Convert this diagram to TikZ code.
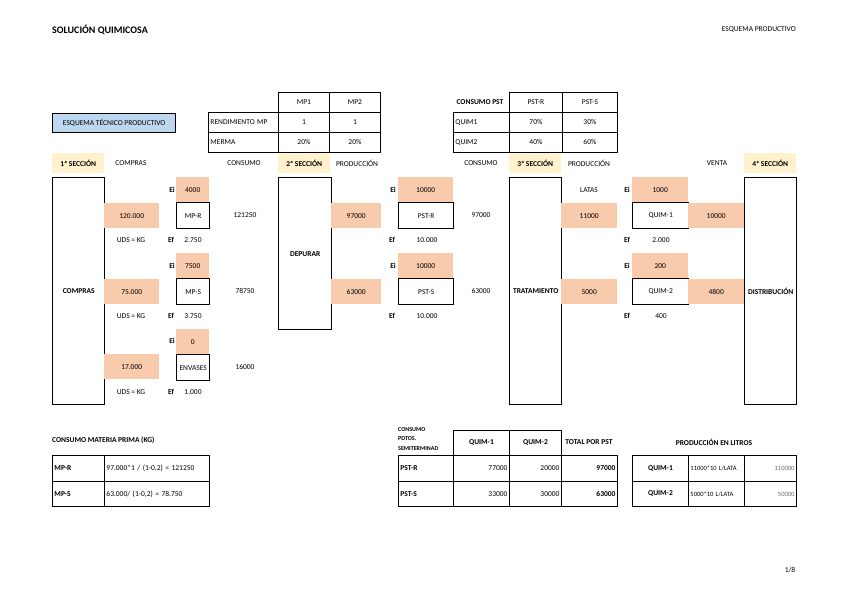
\documentclass[tikz,border=0pt]{standalone}
\usepackage{fontspec}
\setmainfont{Carlito}
\usetikzlibrary{positioning,backgrounds}
\definecolor{salmon}{HTML}{F8CBAD}
\definecolor{cream}{HTML}{FFF2CC}
\definecolor{skyblue}{HTML}{BDD7EE}
\newcommand{\qsmall}{\fontsize{7.5}{9}\selectfont}
\newcommand{\qbold}{\fontsize{7.5}{9}\selectfont\bfseries}
\newcommand{\qtiny}{\fontsize{6.5}{7.8}\selectfont}
\tikzset{
	sz/.style 2 args={minimum width=#1pt, minimum height=#2pt},
	tcell/.style={
		draw, rectangle, line width=0.9pt, anchor=north west,
		inner sep=0pt, font=\qsmall
	},
	lcell/.style={tcell, inner xsep=2pt, text width=#1pt, align=left},
	rcell/.style={tcell, inner xsep=2pt, text width=#1pt, align=right},
	ocell/.style={
		rectangle, fill=salmon, anchor=north west,
		inner sep=0pt, font=\qsmall
	},
	seccion/.style={
		rectangle, fill=cream, anchor=north west, inner sep=0pt,
		minimum width=52pt, minimum height=20pt, font=\qbold
	},
	etapa/.style={
		draw, rectangle, line width=1.4pt, anchor=north west,
		inner sep=0pt, minimum width=52pt, font=\qbold
	},
	stock/.style={
		draw, rectangle, line width=1.4pt, anchor=north west,
		inner sep=0pt, minimum height=26pt, font=\qsmall
	},
	lbl/.style={inner sep=0pt, font=\qsmall},
	blbl/.style={inner sep=0pt, font=\qbold},
}

\begin{document}
\begin{tikzpicture}[x=1pt, y=-1pt,
		rowline/.style={black!60, line width=0.8pt}]
	\useasboundingbox (0,0) rectangle (848,599);
	\fill[white] (0,0) rectangle (848,599);

	% cabecera
	\node[anchor=west, inner sep=0pt, font=\fontsize{10}{12}\selectfont\bfseries] (titulo) at (52,30) {SOLUCIÓN QUIMICOSA};
	\node[lbl, anchor=east] (hoja) at (796,30) {ESQUEMA PRODUCTIVO};
	\node[lbl] (pagina) at (790,570) {1/8};
	\node[tcell, sz={123}{19}, fill=skyblue, line width=1.4pt] (etp) at (52,113) {ESQUEMA TÉCNICO PRODUCTIVO};

	% rendimiento y merma
	\node[tcell, sz={51}{20}] (mp1) at (278,92) {MP1};
	\node[tcell, sz={51}{20}] (mp2) at (329,92) {MP2};
	\node[lcell=66, sz={70}{20}] (rend) at (208,112) {RENDIMIENTO MP};
	\node[tcell, sz={51}{20}] (rend1) at (278,112) {1};
	\node[tcell, sz={51}{20}] (rend2) at (329,112) {1};
	\node[lcell=66, sz={70}{20}] (merma) at (208,132) {MERMA};
	\node[tcell, sz={51}{20}] (merma1) at (278,132) {20\%};
	\node[tcell, sz={51}{20}] (merma2) at (329,132) {20\%};

	% consumo pst
	\node[blbl] (cpst) at (480,102) {CONSUMO PST};
	\node[tcell, sz={53}{20}] (hpstr) at (509,92) {PST-R};
	\node[tcell, sz={55}{20}] (hpsts) at (562,92) {PST-S};
	\node[lcell=52, sz={56}{20}] (q1) at (453,112) {QUIM1};
	\node[tcell, sz={53}{20}] (q1r) at (509,112) {70\%};
	\node[tcell, sz={55}{20}] (q1s) at (562,112) {30\%};
	\node[lcell=52, sz={56}{20}] (q2) at (453,132) {QUIM2};
	\node[tcell, sz={53}{20}] (q2r) at (509,132) {40\%};
	\node[tcell, sz={55}{20}] (q2s) at (562,132) {60\%};

	% secciones
	\node[seccion] (s1) at (52,153) {1ª SECCIÓN};
	\node[seccion] (s2) at (278,153) {2ª SECCIÓN};
	\node[seccion] (s3) at (509,153) {3ª SECCIÓN};
	\node[seccion] (s4) at (744,153) {4ª SECCIÓN};
	\node[lbl] (hcompras) at (131,163) {COMPRAS};
	\node[lbl] (hcons1) at (244,163) {CONSUMO};
	\node[lbl] (hprod1) at (357,163) {PRODUCCIÓN};
	\node[lbl] (hcons2) at (481,163) {CONSUMO};
	\node[lbl] (hprod2) at (589,163) {PRODUCCIÓN};
	\node[lbl] (hventa) at (717,163) {VENTA};

	\node[etapa, minimum height=227pt] (compras) at (52,177) {COMPRAS};
	\node[etapa, minimum width=53pt, minimum height=152pt] (depurar) at (278,177) {DEPURAR};
	\node[etapa, minimum height=227pt] (trat) at (509,177) {TRATAMIENTO};
	\node[etapa, minimum height=227pt] (dist) at (744,177) {DISTRIBUCIÓN};

	% materias primas
	\node[ocell, sz={33}{25}] (eimpr) at (176,177) {4000};
	\node[ocell, sz={55}{25}] (cmpr) at (104,203) {120.000};
	\node[stock, minimum width=33pt] (mpr) at (176,202) {MP-R};
	\node[lbl] (umpr) at (245,215) {121250};
	\node[ocell, sz={33}{25}] (eimps) at (176,253) {7500};
	\node[ocell, sz={55}{25}] (cmps) at (104,279) {75.000};
	\node[stock, minimum width=33pt] (mps) at (176,278) {MP-S};
	\node[lbl] (umps) at (245,291) {78750};
	\node[ocell, sz={33}{25}] (eienv) at (176,329) {0};
	\node[ocell, sz={55}{25}] (cenv) at (104,354) {17.000};
	\node[stock, minimum width=33pt] (env) at (176,354) {ENVASES};
	\node[lbl] (uenv) at (245,367) {16000};
	\foreach \y/\n/\ef/\ei in {240/a/2.750/190, 316/b/3.750/266, 392/c/1.000/341} {
		\node[lbl] (uds\n) at (131,\y) {UDS = KG};
		\node[blbl] (ef\n) at (171,\y) {Ef};
		\node[lbl] (efv\n) at (193,\y) {\ef};
		\node[blbl] (ei\n) at (172,\ei) {Ei};
	}

	% semiterminados
	\node[ocell, sz={55}{25}] (eipstr) at (398,177) {10000};
	\node[ocell, sz={50}{25}] (ppstr) at (331,203) {97000};
	\node[stock, minimum width=55pt] (pstr) at (398,202) {PST-R};
	\node[lbl] (upstr) at (481,215) {97000};
	\node[ocell, sz={55}{25}] (eipsts) at (398,253) {10000};
	\node[ocell, sz={50}{25}] (ppsts) at (331,279) {63000};
	\node[stock, minimum width=55pt] (psts) at (398,278) {PST-S};
	\node[lbl] (upsts) at (481,291) {63000};
	\node[blbl] (eid) at (393,190) {Ei};
	\node[blbl] (eie) at (393,266) {Ei};
	\node[blbl] (efd) at (392,240) {Ef};
	\node[blbl] (efe) at (392,316) {Ef};
	\node[lbl] (efvd) at (427,240) {10.000};
	\node[lbl] (efve) at (427,316) {10.000};

	% quimicos
	\node[lbl] (latas) at (589,190) {LATAS};
	\node[ocell, sz={56}{25}] (eiq1) at (632,177) {1000};
	\node[ocell, sz={56}{25}] (pq1) at (561,203) {11000};
	\node[stock, minimum width=56pt] (quim1) at (632,202) {QUIM-1};
	\node[ocell, sz={56}{25}] (vq1) at (688,203) {10000};
	\node[ocell, sz={56}{25}] (eiq2) at (632,253) {200};
	\node[ocell, sz={56}{25}] (pq2) at (561,279) {5000};
	\node[stock, minimum width=56pt] (quim2) at (632,278) {QUIM-2};
	\node[ocell, sz={56}{25}] (vq2) at (688,279) {4800};
	\node[blbl] (eif) at (627,190) {Ei};
	\node[blbl] (eig) at (627,266) {Ei};
	\node[blbl] (eff) at (627,240) {Ef};
	\node[blbl] (efg) at (627,316) {Ef};
	\node[lbl] (efvf) at (661,240) {2.000};
	\node[lbl] (efvg) at (661,316) {400};

	\begin{scope}[on background layer]
		\draw[rowline] (mpr.south -| compras.east) -- (mpr.south -| depurar.west);
		\draw[rowline] (mps.south -| compras.east) -- (mps.south -| depurar.west);
		\draw[rowline] (env.south -| compras.east) -- (env.south -| trat.west);
		\draw[rowline] (pstr.south -| depurar.east) -- (pstr.south -| trat.west);
		\draw[rowline] (psts.south -| depurar.east) -- (psts.south -| trat.west);
	\end{scope}

	% consumo materia prima
	\node[blbl, anchor=west] (tcmp) at (52,440) {CONSUMO MATERIA PRIMA (KG)};
	\node[lcell=48, sz={52}{26}, font=\qbold] (fmpr) at (52,455) {MP-R};
	\node[lcell=101, sz={105}{26}] (cfmpr) at (104,455) {97.000*1 / (1-0,2) = 121250};
	\node[lcell=48, sz={52}{25}, font=\qbold] (fmps) at (52,481) {MP-S};
	\node[lcell=101, sz={105}{25}] (cfmps) at (104,481) {63.000/ (1-0,2) = 78.750};

	% consumo semiterminados
	\node[anchor=north west, inner sep=0pt, align=left, font=\fontsize{6}{9.5}\selectfont\bfseries] (tcpd) at (398,427) {CONSUMO\\PDTOS.\\SEMITERMINAD};
	\node[tcell, sz={56}{25}, font=\qbold] (hq1) at (453,430) {QUIM-1};
	\node[tcell, sz={52}{25}, font=\qbold] (hq2) at (509,430) {QUIM-2};
	\node[blbl] (htot) at (589,442) {TOTAL POR PST};
	\node[lcell=51, sz={55}{26}, font=\qbold] (rpstr) at (398,455) {PST-R};
	\node[rcell=52, sz={56}{26}] (rpstr1) at (453,455) {77000};
	\node[rcell=48, sz={52}{26}] (rpstr2) at (509,455) {20000};
	\node[rcell=52, sz={56}{26}, font=\qbold] (rpstrt) at (561,455) {97000};
	\node[lcell=51, sz={55}{25}, font=\qbold] (rpsts) at (398,481) {PST-S};
	\node[rcell=52, sz={56}{25}] (rpsts1) at (453,481) {33000};
	\node[rcell=48, sz={52}{25}] (rpsts2) at (509,481) {30000};
	\node[rcell=52, sz={56}{25}, font=\qbold] (rpstst) at (561,481) {63000};

	% produccion en litros
	\node[blbl] (hlit) at (714,442) {PRODUCCIÓN EN LITROS};
	\node[tcell, sz={56}{26}, font=\qbold] (lq1) at (632,455) {QUIM-1};
	\node[lcell=52, sz={56}{26}, font=\qtiny] (lq1f) at (688,455) {11000*10 L/LATA};
	\node[rcell=48, sz={52}{26}, font=\qtiny, text=black!60] (lq1v) at (744,455) {110000};
	\node[tcell, sz={56}{25}, font=\qbold] (lq2) at (632,481) {QUIM-2};
	\node[lcell=52, sz={56}{25}, font=\qtiny] (lq2f) at (688,481) {5000*10 L/LATA};
	\node[rcell=48, sz={52}{25}, font=\qtiny, text=black!60] (lq2v) at (744,481) {50000};
\end{tikzpicture}
\end{document}
